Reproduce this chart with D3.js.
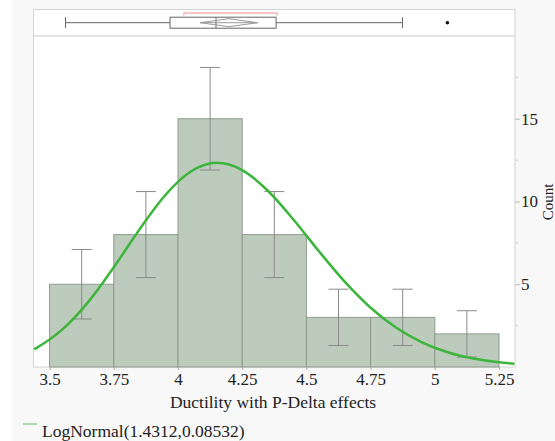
<!DOCTYPE html>
<html>
<head>
<meta charset="utf-8">
<script src="https://cdnjs.cloudflare.com/ajax/libs/d3/7.8.5/d3.min.js"></script>
<style>
  body { margin: 0; background: #fff; }
  svg { display: block; }
  text { font-family: "Liberation Serif", "DejaVu Serif", serif; fill: #222; }
</style>
</head>
<body>
<div id="app"></div>
<script>
// histogram bins (lower edges, width 0.25) and counts
const binStarts = [3.5, 3.75, 4, 4.25, 4.5, 4.75, 5];
const counts = [5, 8, 15, 8, 3, 3, 2];
const errLow = [2.9, 5.4, 11.9, 5.4, 1.3, 1.3, 0.6];
const errHigh = [7.1, 10.6, 18.1, 10.6, 4.7, 4.7, 3.4];

// fitted LogNormal curve
const curveX = [3.44, 3.45, 3.55, 3.65, 3.75, 3.85, 3.95, 4.05, 4.15, 4.25, 4.35, 4.45,
  4.55, 4.65, 4.75, 4.85, 4.95, 5.05, 5.15, 5.25, 5.31];
const curveY = [1.07, 1.16, 2.27, 3.92, 6.03, 8.31, 10.38, 11.81, 12.34, 11.9, 10.65, 8.9,
  6.97, 5.14, 3.58, 2.37, 1.49, 0.89, 0.51, 0.28, 0.2];

// box plot summary
const whiskers = [3.562, 4.874];
const quartiles = [3.969, 4.382];
const median = 4.148;
const meanDiamond = [4.086, 4.31];
const outliers = [5.049];
const shortestHalf = [4.023, 4.386];

const xTicks = [3.5, 3.75, 4, 4.25, 4.5, 4.75, 5, 5.25];
const yTicks = [5, 10, 15];
const yMinor = [2.5, 7.5, 12.5, 17.5];
const legendLabel = "LogNormal(1.4312,0.08532)";

const width = 555, height = 441;
const left = 33.5, right = 515, boxTop = 9.5, plotTop = 36, bottom = 367;

const svg = d3.select("#app").append("svg")
  .attr("width", width).attr("height", height);

svg.append("rect").attr("x", 12).attr("y", 0)
  .attr("width", width - 12).attr("height", height).attr("fill", "#f8f8f8");

const x = d3.scaleLinear().domain([3.5, 5.25]).range([49.6, 499]);
const y = d3.scaleLinear().domain([0, 20]).range([bottom, plotTop]);

// panels
svg.append("rect").attr("x", left).attr("y", boxTop)
  .attr("width", right - left).attr("height", plotTop - boxTop)
  .attr("fill", "#fff").attr("stroke", "#d4d4d4");
svg.append("rect").attr("x", left).attr("y", plotTop)
  .attr("width", right - left).attr("height", bottom - plotTop)
  .attr("fill", "#fff").attr("stroke", "#d4d4d4");

// bars
svg.selectAll(".bar").data(counts).enter().append("rect")
  .attr("class", "bar")
  .attr("x", (d, i) => x(binStarts[i]))
  .attr("y", d => y(d))
  .attr("width", (d, i) => x(binStarts[i] + 0.25) - x(binStarts[i]))
  .attr("height", d => y(0) - y(d))
  .attr("fill", "#bccbbc")
  .attr("stroke", "#8d9b8d")
  .attr("stroke-width", 1);

// error bars
const eb = svg.append("g").attr("stroke", "#8a8a8a").attr("stroke-width", 1);
counts.forEach((c, i) => {
  const cx = x(binStarts[i] + 0.125);
  eb.append("line").attr("x1", cx).attr("x2", cx)
    .attr("y1", y(errLow[i])).attr("y2", y(errHigh[i]));
  [errLow[i], errHigh[i]].forEach(v => {
    eb.append("line").attr("x1", cx - 10).attr("x2", cx + 10)
      .attr("y1", y(v)).attr("y2", y(v));
  });
});

// fitted curve
svg.append("clipPath").attr("id", "clip").append("rect")
  .attr("x", left).attr("y", plotTop).attr("width", right - left).attr("height", bottom - plotTop);
const line = d3.line().x(d => x(d[0])).y(d => y(d[1])).curve(d3.curveMonotoneX);
svg.append("path")
  .datum(curveX.map((v, i) => [v, curveY[i]]))
  .attr("clip-path", "url(#clip)")
  .attr("d", line)
  .attr("fill", "none")
  .attr("stroke", "#3db53d")
  .attr("stroke-width", 2.5);

// x axis
const xAxis = svg.append("g").attr("transform", `translate(0,${bottom})`)
  .call(d3.axisBottom(x).tickValues(xTicks).tickFormat(d3.format("")).tickSize(3).tickPadding(3));
xAxis.select(".domain").remove();
xAxis.selectAll("line").attr("stroke", "#aaa");
xAxis.selectAll("text")
  .style("font-size", "17px")
  .style("font-family", "Liberation Serif, serif").style("fill", "#222");

svg.append("text").attr("x", 273).attr("y", 408)
  .attr("text-anchor", "middle").style("font-size", "17.5px")
  .text("Ductility with P-Delta effects");

// y axis on right
const yAxis = svg.append("g").attr("transform", `translate(${right},0)`)
  .call(d3.axisRight(y).tickValues(yTicks).tickSize(5).tickPadding(1));
yAxis.select(".domain").remove();
yAxis.selectAll("line").attr("stroke", "#bbb");
yAxis.selectAll("text")
  .style("font-size", "17px")
  .style("font-family", "Liberation Serif, serif").style("fill", "#222");
svg.selectAll(".minor").data(yMinor).enter().append("line")
  .attr("class", "minor")
  .attr("x1", right).attr("x2", right + 3)
  .attr("y1", d => y(d)).attr("y2", d => y(d))
  .attr("stroke", "#ccc");

svg.append("text")
  .attr("transform", `translate(553,202) rotate(-90)`)
  .attr("text-anchor", "middle").style("font-size", "15px")
  .text("Count");

// box plot
const by = 22.7;
const bp = svg.append("g").attr("stroke", "#666").attr("fill", "none").attr("stroke-width", 1);
bp.append("line").attr("x1", x(whiskers[0])).attr("x2", x(quartiles[0])).attr("y1", by).attr("y2", by);
bp.append("line").attr("x1", x(quartiles[1])).attr("x2", x(whiskers[1])).attr("y1", by).attr("y2", by);
whiskers.forEach(w => bp.append("line").attr("x1", x(w)).attr("x2", x(w))
  .attr("y1", by - 5.5).attr("y2", by + 5.5));
bp.append("rect").attr("x", x(quartiles[0])).attr("y", by - 5.5)
  .attr("width", x(quartiles[1]) - x(quartiles[0])).attr("height", 11);
bp.append("line").attr("x1", x(median)).attr("x2", x(median))
  .attr("y1", by - 5.5).attr("y2", by + 5.5);
const mx = (meanDiamond[0] + meanDiamond[1]) / 2;
bp.append("path")
  .attr("d", `M${x(meanDiamond[0])},${by}L${x(mx)},${by - 4}L${x(meanDiamond[1])},${by}L${x(mx)},${by + 4}Z`)
  .attr("stroke", "#999");
bp.append("line").attr("x1", x(meanDiamond[0])).attr("x2", x(meanDiamond[1]))
  .attr("y1", by).attr("y2", by).attr("stroke", "#999");
svg.selectAll(".out").data(outliers).enter().append("circle")
  .attr("cx", d => x(d)).attr("cy", by).attr("r", 1.8).attr("fill", "#111");
svg.append("path")
  .attr("d", `M${x(shortestHalf[0])},15.5V13H${x(shortestHalf[1])}V15.5`)
  .attr("fill", "none").attr("stroke", "#f08c8c").attr("stroke-width", 1);

// legend
svg.append("line").attr("x1", 23).attr("x2", 37).attr("y1", 424).attr("y2", 424)
  .attr("stroke", "#5cbf5c").attr("stroke-width", 1);
svg.append("text").attr("x", 42).attr("y", 437).style("font-size", "17.5px")
  .text(legendLabel);
</script>
</body>
</html>
